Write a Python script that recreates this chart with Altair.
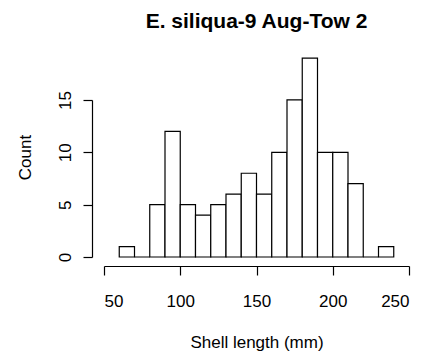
import altair as alt
import pandas as pd

# Histogram of shell lengths, 10 mm bins
bin_start = [60, 70, 80, 90, 100, 110, 120, 130, 140, 150,
             160, 170, 180, 190, 200, 210, 220, 230]
bin_width = 10
counts = [1, 0, 5, 12, 5, 4, 5, 6, 8, 6, 10, 15, 19, 10, 10, 7, 0, 1]

x_ticks = [50, 100, 150, 200, 250]
y_ticks = [0, 5, 10, 15]
main_title = ["E. siliqua-9 Aug-Tow 2"]

df = pd.DataFrame({
    "start": bin_start,
    "end": [s + bin_width for s in bin_start],
    "count": counts,
})

FONT = "Liberation Sans"
W, H = 305, 208
PX_PER_COUNT = 10.47

x_scale = alt.Scale(domain=[50, 250], range=[0, W], nice=False, zero=False)
y_scale = alt.Scale(domain=[0, 15], range=[H, H - 15 * PX_PER_COUNT], nice=False)

bars = alt.Chart(df).mark_bar(
    fill="white", stroke="black", strokeWidth=1.2
).encode(
    x=alt.X("start:Q", scale=x_scale,
            axis=alt.Axis(values=x_ticks, title="Shell length (mm)",
                          grid=False, offset=9, tickSize=9,
                          domainColor="black", tickColor="black",
                          domainWidth=1.2, tickWidth=1.2,
                          labelFont=FONT, labelFontSize=17, labelColor="black",
                          labelBaseline="alphabetic", labelPadding=31,
                          titleFont=FONT, titleFontSize=17, titleFontWeight="normal",
                          titleColor="black", titleBaseline="alphabetic",
                          titleY=81, titleX=W / 2)),
    x2="end:Q",
    y=alt.Y("count:Q", scale=y_scale,
            axis=alt.Axis(values=y_ticks, title="Count",
                          grid=False, offset=12, tickSize=9,
                          domainColor="black", tickColor="black",
                          domainWidth=1.2, tickWidth=1.2,
                          labelFont=FONT, labelFontSize=17, labelColor="black",
                          labelAngle=-90, labelAlign="center",
                          labelBaseline="alphabetic", labelPadding=13,
                          titleFont=FONT, titleFontSize=17, titleFontWeight="normal",
                          titleColor="black", titleBaseline="alphabetic",
                          titleAngle=-90, titleX=-62, titleY=108)),
    y2=alt.datum(0),
)

# Main title, centred over the plot region
title = alt.Chart(pd.DataFrame({"t": main_title})).mark_text(
    font=FONT, fontSize=21, fontWeight="bold", color="black",
    align="center", baseline="alphabetic",
).encode(
    text="t:N",
    x=alt.value(W / 2),
    y=alt.value(-20.7),
)

chart = alt.layer(bars, title).properties(
    width=W,
    height=H,
    autosize=alt.AutoSizeParams(type="none"),
    padding={"left": 104, "top": 49, "right": 16, "bottom": 102},
    background="white",
).configure_view(stroke=None)

chart.save("out.html", embed_options={"renderer": "svg", "actions": False})
